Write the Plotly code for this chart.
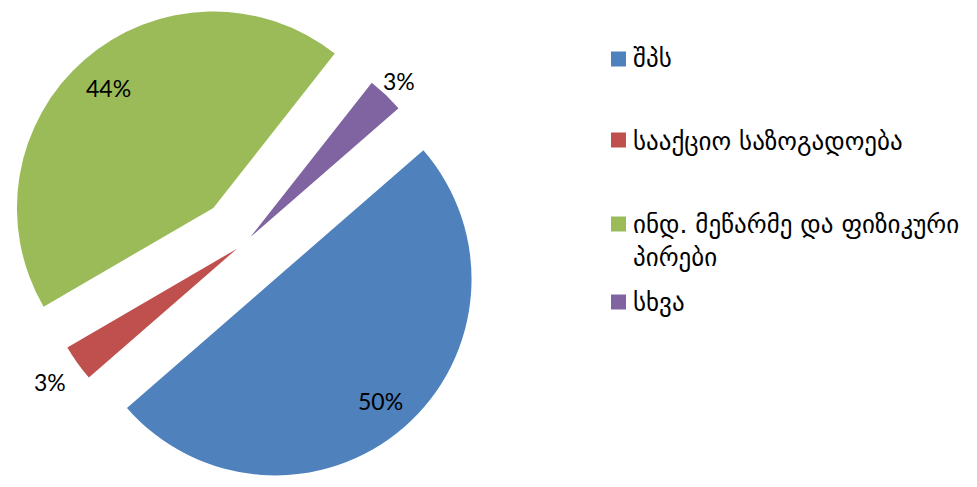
import math
import plotly.graph_objects as go

categories = ["შპს", "სააქციო საზოგადოება", "ინდ. მეწარმე და ფიზიკური პირები", "სხვა"]
legend_labels = ["შპს", "სააქციო საზოგადოება", "ინდ. მეწარმე და ფიზიკური<br>პირები", "სხვა"]
values = [50, 3, 44, 3]
colors = ["#4F81BD", "#C0504D", "#9BBB59", "#8064A2"]

# styling
pulls = [0.24, 0.045, 0.24, 0.045]
label_radius = [0.82, 1.17, 0.81, 1.10]   # label distance from slice apex, in radii
ROTATION = 49
W, H = 977, 487
DOMAIN_X = [0, 0.5]

fig = go.Figure(go.Pie(
    labels=categories,
    values=values,
    sort=False,
    direction="clockwise",
    rotation=ROTATION,
    pull=pulls,
    marker=dict(colors=colors, line=dict(width=0)),
    textinfo="none",
    domain=dict(x=DOMAIN_X, y=[0, 1]),
    showlegend=False,
    hoverinfo="label+percent",
))

# percentage labels placed along each slice's mid-angle (same geometry plotly uses)
total = sum(values)
cx = W * (DOMAIN_X[0] + DOMAIN_X[1]) / 2
cy = H / 2
r = min(W * (DOMAIN_X[1] - DOMAIN_X[0]) / 2, H / 2) / (1 + max(pulls))
cum = 0.0
for v, p, rf in zip(values, pulls, label_radius):
    frac = v / total
    mid = math.radians(ROTATION + (cum + frac / 2) * 360)
    cum += frac
    dx, dy = math.sin(mid), -math.cos(mid)
    px = cx + (p + rf) * r * dx
    py = cy + (p + rf) * r * dy
    fig.add_annotation(xref="paper", yref="paper", x=px / W, y=1 - py / H,
                       xanchor="center", yanchor="middle", showarrow=False,
                       text=f"{round(frac * 100)}%",
                       font=dict(family="Lato", size=23, color="black"))

# manual legend (uneven spacing as in reference)
legend_y_px = [59, 140, 224, 302]
legend_text_y_px = [59, 141, 241, 302]
for lab, col, ypx, tpx in zip(legend_labels, colors, legend_y_px, legend_text_y_px):
    fig.add_shape(type="rect", xref="paper", yref="paper",
                  x0=611 / W, x1=626 / W,
                  y0=1 - (ypx + 7.5) / H, y1=1 - (ypx - 7.5) / H,
                  fillcolor=col, line=dict(width=0))
    fig.add_annotation(xref="paper", yref="paper", x=631 / W, y=1 - tpx / H,
                       xanchor="left", yanchor="middle", align="left",
                       text=lab, showarrow=False,
                       font=dict(family="DejaVu Sans", size=25, color="black"))

fig.update_layout(
    width=W, height=H, autosize=False,
    margin=dict(l=0, r=0, t=0, b=0, pad=0, autoexpand=False),
    paper_bgcolor="white", plot_bgcolor="white",
)

fig.write_html("out.html",
               config={"displayModeBar": False},
               post_script="document.body.style.margin='0px';document.body.style.overflow='hidden';")
